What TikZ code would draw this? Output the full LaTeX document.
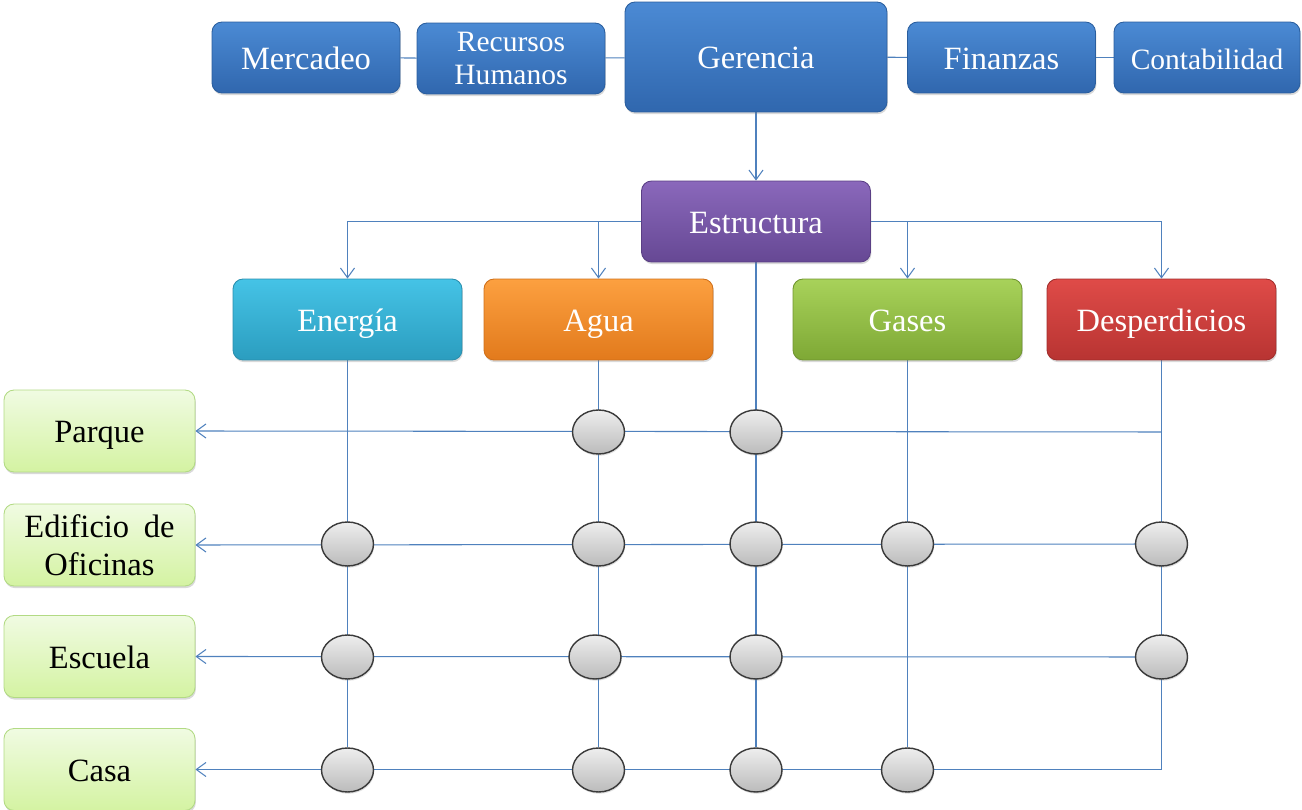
\documentclass[tikz,border=0pt]{standalone}
\usepackage{fontspec}
\setmainfont{Liberation Serif}
\usetikzlibrary{shapes.geometric,arrows.meta,shadows,backgrounds}
\definecolor{lineblue}{HTML}{4F81BD}
\definecolor{bluetop}{HTML}{4B8AD4}
\definecolor{bluebot}{HTML}{3067AE}
\definecolor{blueedge}{HTML}{2A5E9E}
\definecolor{purtop}{HTML}{8A68BB}
\definecolor{purbot}{HTML}{664894}
\definecolor{puredge}{HTML}{5A3F85}
\definecolor{cyantop}{HTML}{45C3E6}
\definecolor{cyanbot}{HTML}{2B9DBF}
\definecolor{cyanedge}{HTML}{2A8FAE}
\definecolor{orgtop}{HTML}{FCA040}
\definecolor{orgbot}{HTML}{E27A1C}
\definecolor{orgedge}{HTML}{D0701A}
\definecolor{grntop}{HTML}{A8D25A}
\definecolor{grnbot}{HTML}{7EA835}
\definecolor{grnedge}{HTML}{709530}
\definecolor{redtop}{HTML}{DF4B48}
\definecolor{redbot}{HTML}{B83432}
\definecolor{rededge}{HTML}{A22E2C}
\definecolor{lgtop}{HTML}{F0FBE2}
\definecolor{lgbot}{HTML}{D4F3A2}
\definecolor{lgedge}{HTML}{B2DA84}
\definecolor{eltop}{HTML}{EEEEEE}
\definecolor{elbot}{HTML}{BBBBBB}
\definecolor{eledge}{HTML}{3A3A3A}
\begin{document}
\begin{tikzpicture}[x=0.02cm,y=-0.02cm,
  base/.style={rectangle, rounded corners=0.2cm, text=white, align=center,
    font=\fontsize{18.5}{22}\selectfont, inner sep=1pt, line width=0.5pt,
    drop shadow={opacity=0.3,shadow xshift=0.5pt,shadow yshift=-1.2pt}},
  oneline/.style={text height=13.4pt, text depth=0pt},
  topbox/.style={base, top color=bluetop, bottom color=bluebot, draw=blueedge,
    minimum width=3.76cm, minimum height=1.42cm},
  midbox/.style={base, oneline, minimum width=4.58cm, minimum height=1.62cm},
  rowbox/.style={base, top color=lgtop, bottom color=lgbot, draw=lgedge, text=black,
    minimum width=3.82cm, minimum height=1.64cm},
  dot/.style={ellipse, top color=eltop, bottom color=elbot, draw=eledge, line width=0.8pt,
    minimum width=1.04cm, minimum height=0.88cm, inner sep=0pt,
    drop shadow={opacity=0.25,shadow xshift=0.4pt,shadow yshift=-1pt}},
  link/.style={draw=lineblue, line width=0.6pt},
  arr/.style={link, -{Straight Barb[length=5.5pt,width=8pt,line width=0.6pt]}}
]
\useasboundingbox (0,0) rectangle (1302,810);

% top row
\node[topbox, oneline] (merc) at (306,57.5) {Mercadeo};
\node[topbox, font=\fontsize{16.8}{19.3}\selectfont] (rh) at (511,58.5) {Recursos\\Humanos};
\node[base, oneline, top color=bluetop, bottom color=bluebot, draw=blueedge,
  minimum width=5.24cm, minimum height=2.2cm] (ger) at (756,57) {Gerencia};
\node[topbox, oneline] (fin) at (1001.5,57.5) {Finanzas};
\node[topbox, oneline, minimum width=3.72cm, font=\fontsize{16.8}{20}\selectfont] (cont) at (1207,57.5) {Contabilidad};

% structure
\node[midbox, top color=purtop, bottom color=purbot, draw=puredge] (est) at (756,221.5) {Estructura};
\node[midbox, top color=cyantop, bottom color=cyanbot, draw=cyanedge] (ene) at (347.5,319.5) {Energía};
\node[midbox, top color=orgtop, bottom color=orgbot, draw=orgedge] (agua) at (598.5,319.5) {Agua};
\node[midbox, top color=grntop, bottom color=grnbot, draw=grnedge] (gas) at (907.5,319.5) {Gases};
\node[midbox, top color=redtop, bottom color=redbot, draw=rededge] (desp) at (1161.5,319.5) {Desperdicios};

% row boxes
\node[rowbox, oneline] (parque) at (99.5,431) {Parque};
\node[rowbox, font=\fontsize{18.5}{21.6}\selectfont] (edif) at (99.5,545) {Edificio\hspace{0.45em}de\\Oficinas};
\node[rowbox, oneline] (escuela) at (99.5,656.5) {Escuela};
\node[rowbox, oneline] (casa) at (99.5,769.5) {Casa};

% ellipses
\node[dot] (pA) at (598.5,432) {};
\node[dot] (pX) at (756,432) {};
\node[dot] (eE) at (347.5,544) {};
\node[dot] (eA) at (598.5,544) {};
\node[dot] (eX) at (756,544) {};
\node[dot] (eG) at (907.5,544) {};
\node[dot] (eD) at (1161.5,544) {};
\node[dot] (sE) at (347.5,657) {};
\node[dot] (sA) at (595,657) {};
\node[dot] (sX) at (756,657) {};
\node[dot] (sD) at (1161.5,657) {};
\node[dot] (cE) at (347.5,770) {};
\node[dot] (cA) at (598.5,770) {};
\node[dot] (cX) at (756,770) {};
\node[dot] (cG) at (907.5,770) {};

\coordinate (pD) at (1161.5,432);

\begin{pgfonlayer}{background}
  % top row links
  \draw[link] (merc) -- (rh);
  \draw[link] (rh) -- (ger);
  \draw[link] (ger) -- (fin);
  \draw[link] (fin) -- (cont);
  \draw[arr] (ger) -- (est);
  % branches
  \draw[arr] (est.west) -| (ene.north);
  \draw[arr] (est.west -| agua.north) -- (agua.north);
  \draw[arr] (est.east) -| (desp.north);
  \draw[arr] (est.east -| gas.north) -- (gas.north);
  % verticals
  \draw[link] (ene.south) -- (cE);
  \draw[link] (agua.south) -- (cA);
  \draw[link] (est.south) -- (cX);
  \draw[link] (gas.south) -- (cG);
  % rows
  \draw[arr] (pD) -- (parque.east);
  \draw[arr] (eD) -- (edif.east);
  \draw[arr] (sD) -- (escuela.east);
  \draw[arr] (desp.south) |- (casa.east);
\end{pgfonlayer}
\end{tikzpicture}
\end{document}
